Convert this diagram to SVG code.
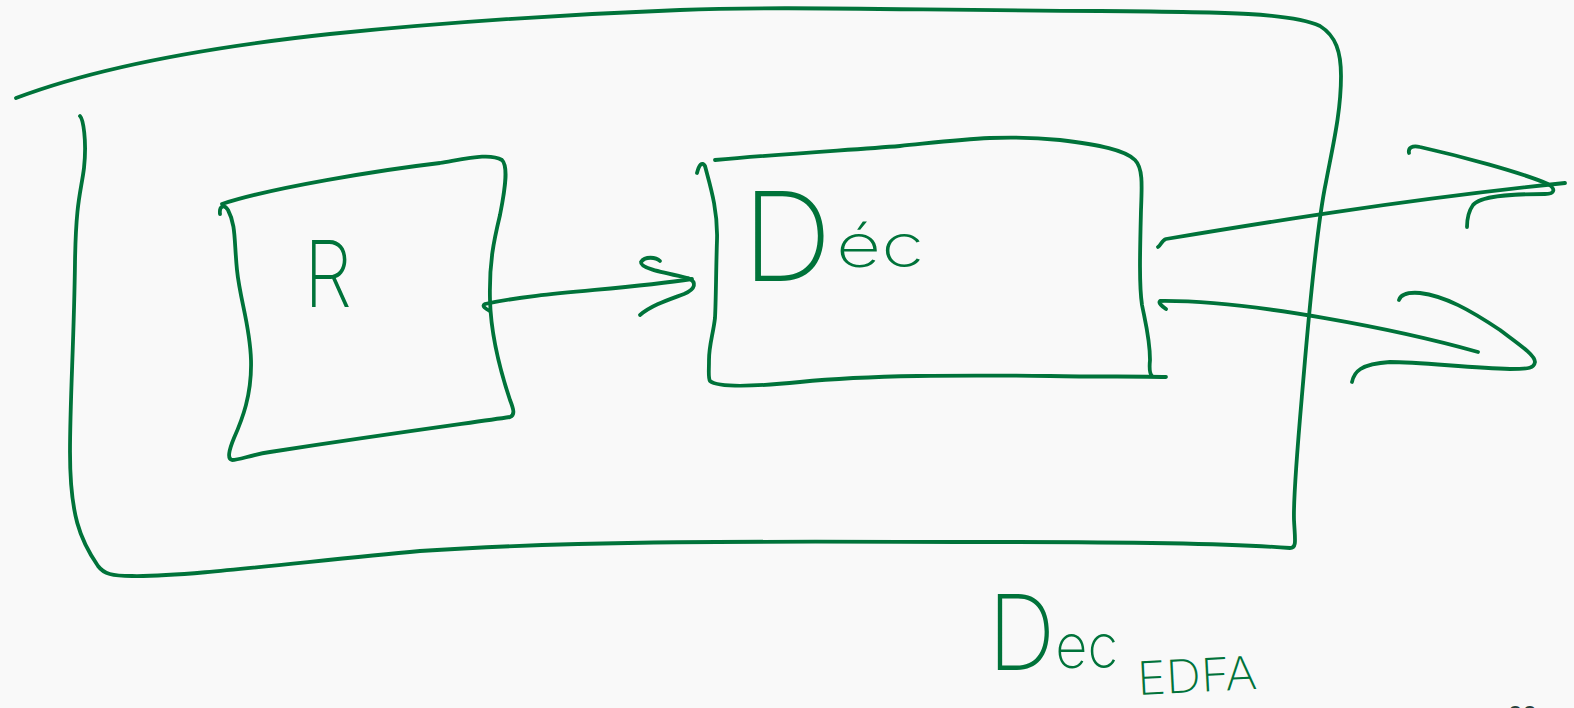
<svg xmlns="http://www.w3.org/2000/svg" width="1574" height="708" viewBox="0 0 1574 708">
  <style>
    .ink { fill: none; stroke: #00733a; stroke-width: 3.8; stroke-linecap: round; stroke-linejoin: round; }
    .hand { fill: #00733a; font-family: Inter, "Noto Sans", "Liberation Sans", sans-serif; font-weight: 200; }
  </style>
  <rect width="1574" height="708" fill="#f9f9f9"/>

  <g id="outer-loop">
    <path class="ink" d="M80 116 C83 119, 87 140, 84 168 C81 192, 76 200, 75 262 C74 340, 70 400, 70 452 C70 515, 80 540, 98 566 C104 574, 112 576, 132 576 C185 577, 300 562, 420 551 C600 539, 800 542, 1000 542 C1150 542, 1250 545, 1290 548 C1297 548, 1295 540, 1294 520 C1293 490, 1300 420, 1305 360 C1312 280, 1318 220, 1326 182 C1333 145, 1341 112, 1341 76 C1341 52, 1336 36, 1320 26 C1292 13, 1230 12, 1100 11 C900 10, 780 6, 680 10 C550 15, 430 24, 330 34 C200 48, 90 70, 16 98"/>
  </g>

  <g id="node-R">
    <path class="ink" d="M222 204 C270 188, 380 170, 440 163 C470 158, 490 153, 502 160 C508 166, 506 185, 500 215 C494 240, 489 262, 490 300 C491 340, 505 385, 510 400 C514 410, 515 415, 510 417 C470 423, 400 432, 270 452 C250 455, 240 460, 232 460 C227 459, 229 450, 234 438 C242 420, 252 395, 251 360 C250 325, 240 300, 237 270 C234 240, 236 225, 228 210 C224 204, 219 206, 220 214"/>
    <text class="hand" x="304" y="307" font-size="92" textLength="48" lengthAdjust="spacingAndGlyphs">R</text>
  </g>

  <g id="node-Dec">
    <path class="ink" d="M715 160 C780 154, 850 150, 900 146 C960 140, 1000 134, 1060 140 C1100 145, 1125 150, 1135 160 C1143 168, 1142 185, 1141 210 C1140 250, 1139 285, 1142 305 C1146 325, 1150 340, 1150 360 C1149 370, 1150 374, 1152 376"/>
    <path class="ink" d="M697 173 C699 165, 702 161, 705 166 C710 185, 718 210, 717 240 C716 270, 716 300, 715 318 C713 335, 709 345, 709 360 C709 372, 708 378, 710 381 C716 386, 740 388, 800 382 C870 375, 960 375, 1050 376 C1100 377, 1140 376, 1166 377"/>
    <text class="hand" x="742" y="281" font-size="124" textLength="90" lengthAdjust="spacingAndGlyphs">D</text>
    <text class="hand" x="836" y="267" font-size="60" textLength="88" lengthAdjust="spacingAndGlyphs">éc</text>
  </g>

  <g id="label-DecEDFA">
    <text class="hand" x="988" y="670" textLength="130" lengthAdjust="spacingAndGlyphs"><tspan font-size="104">D</tspan><tspan font-size="62" dy="-2">ec</tspan></text>
    <text class="hand" x="1138" y="695" font-size="46" textLength="120" lengthAdjust="spacingAndGlyphs" transform="rotate(-3 1138 695)">EDFA</text>
  </g>

  <g id="connectors">
    <path class="ink" d="M490 311 C486 309, 481 306, 485 304 C540 292, 620 290, 692 279"/>
    <path class="ink" d="M660 261 C656 257, 645 256, 641 262 C640 268, 660 272, 688 278 C697 282, 696 289, 684 294 C668 300, 652 305, 640 315"/>
    <path class="ink" d="M1158 247 C1161 245, 1162 240, 1166 239 C1250 225, 1400 200, 1565 183"/>
    <path class="ink" d="M1409 153 C1408 148, 1412 145, 1420 147 C1460 156, 1520 172, 1548 184 C1556 189, 1555 194, 1545 194 C1510 194, 1480 196, 1473 205 C1468 212, 1467 220, 1467 227"/>
    <path class="ink" d="M1478 352 C1400 330, 1250 300, 1160 301 C1158 303, 1162 306, 1166 309"/>
    <path class="ink" d="M1399 300 C1401 294, 1408 292, 1420 293 C1445 296, 1470 310, 1500 330 C1520 345, 1535 355, 1535 362 C1534 368, 1530 369, 1510 369 C1470 368, 1420 362, 1390 362 C1360 364, 1354 372, 1352 382"/>
  </g>

  <text x="1508" y="724" font-family="'Liberation Sans', Arial, sans-serif" font-size="26" fill="#25403a">00</text>
</svg>
